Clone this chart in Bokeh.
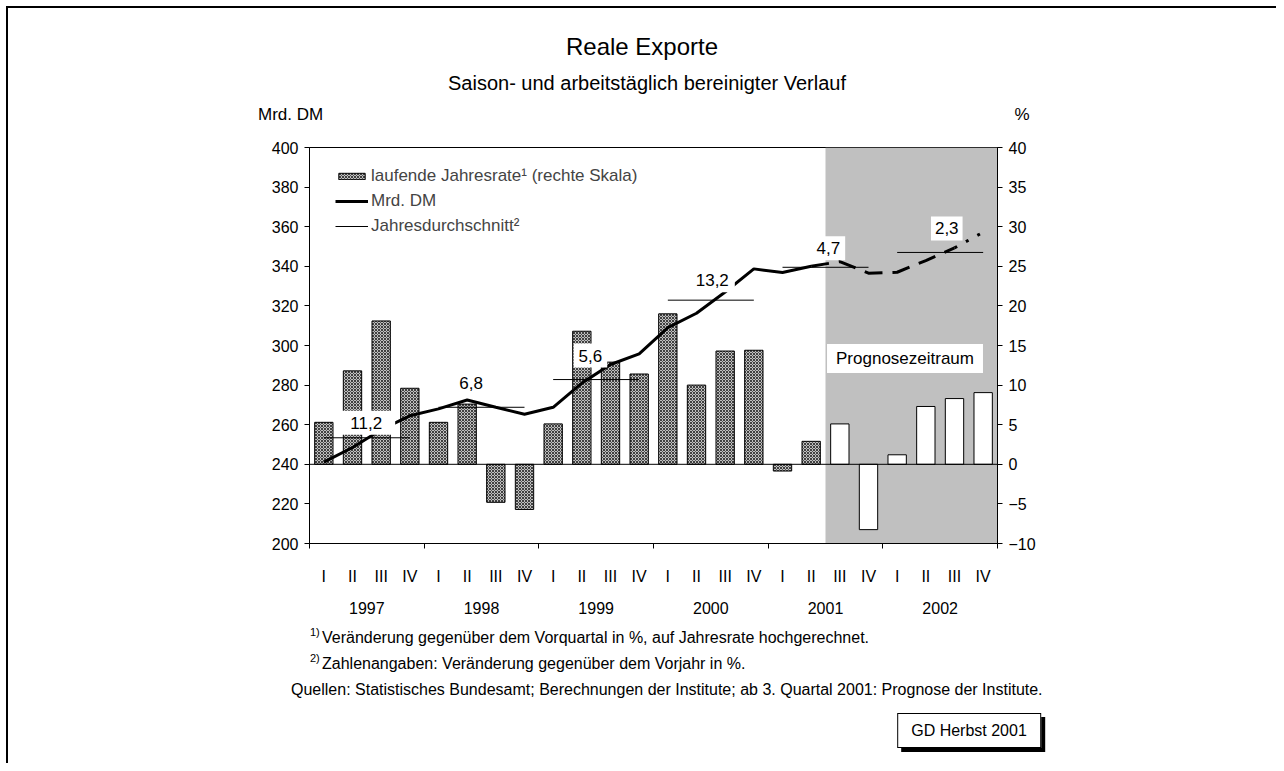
from bokeh.plotting import figure
from bokeh.layouts import column
from bokeh.models import (Range1d, LinearAxis, FixedTicker, Label, Legend, LegendItem,
                          ColumnDataSource, BoxAnnotation, Span, Div)
from bokeh.embed import file_html
from bokeh.resources import INLINE

# ---------------- data ----------------
quarter_names = ["I", "II", "III", "IV"]
years = ["1997", "1998", "1999", "2000", "2001", "2002"]
# laufende Jahresrate (%), right scale
rate = [5.3, 11.8, 18.1, 9.6, 5.3, 7.6, -4.8, -5.7,
        5.1, 16.8, 12.9, 11.4, 19.0, 10.0, 14.3, 14.4,
        -0.85, 2.9, 5.1, -8.25, 1.2, 7.3, 8.3, 9.05]
# Mrd. DM, left scale
mrd = [241.1, 248.5, 257.5, 264.5, 268.0, 272.5, 268.8, 265.3,
       268.8, 281.0, 290.4, 295.8, 309.0, 316.3, 327.0, 338.7,
       336.9, 340.0, 342.4, 336.5, 337.0, 342.9, 349.3, 357.2]
# Jahresdurchschnitt (Mrd. DM)
avg = [253.4, 268.8, 282.8, 322.9, 339.5, 347.0]
avg_labels = ["11,2", "6,8", "5,6", "13,2", "4,7", "2,3"]
n_actual = 18  # up to 2. Quartal 2001

FONT = "Liberation Sans"
CW = 1268                      # content width (page x 8..1276)
HEAD_TOP, HEAD_BOT = 8, 130    # page y of header strip
FOOT_TOP, FOOT_BOT = 620, 763  # page y of footer strip
FRAME_L, FRAME_T, FRAME_W, FRAME_H = 309, 147, 688, 396


def span(top0, px, py, s, size, align="left", extra=""):
    lh = round(size * 1.2)
    tr = "transform:translateX(-50%);" if align == "center" else ""
    return (f'<span style="position:absolute;left:{px - 8}px;top:{py - top0 - lh / 2:.1f}px;'
            f"font-family:'{FONT}';font-size:{size}px;line-height:{lh}px;white-space:nowrap;"
            f'color:black;{tr}{extra}">{s}</span>')


def strip(top, bot, spans):
    html = (f'<div style="position:relative;width:{CW}px;height:{bot - top}px;overflow:visible;">'
            + "".join(spans) + "</div>")
    return Div(text=html, width=CW, height=bot - top, margin=0)


# ---------------- header ----------------
head = strip(HEAD_TOP, HEAD_BOT, [
    span(HEAD_TOP, 642, 46, "Reale Exporte", 24, "center"),
    span(HEAD_TOP, 647, 83, "Saison- und arbeitstäglich bereinigter Verlauf", 20, "center"),
    span(HEAD_TOP, 258, 115, "Mrd. DM", 17),
    span(HEAD_TOP, 1022, 115, "%", 17, "center"),
])

# ---------------- main chart ----------------
MH = FOOT_TOP - HEAD_BOT
p = figure(width=CW, height=MH, x_range=Range1d(0, 24), y_range=Range1d(200, 400),
           output_backend="svg", toolbar_location=None, tools="",
           x_axis_location=None, y_axis_location=None,
           min_border_left=FRAME_L - 8, min_border_right=CW - (FRAME_L - 8) - FRAME_W,
           min_border_top=FRAME_T - HEAD_BOT, min_border_bottom=MH - (FRAME_T - HEAD_BOT) - FRAME_H)
p.extra_y_ranges = {"pct": Range1d(-10, 40)}
p.grid.visible = False
p.outline_line_color = "black"
p.outline_line_width = 1
p.background_fill_color = "white"
p.border_fill_color = "white"


def style_axis(ax, size="16px"):
    ax.major_label_text_font = FONT
    ax.major_label_text_font_size = size
    ax.major_label_text_color = "black"
    ax.minor_tick_line_color = None
    ax.major_tick_in = 0
    ax.axis_line_color = "black"
    ax.major_tick_line_color = "black"


left = LinearAxis(ticker=FixedTicker(ticks=list(range(200, 401, 20))))
style_axis(left)
left.major_tick_out = 5
left.major_label_standoff = 6
p.add_layout(left, "left")

right = LinearAxis(y_range_name="pct", ticker=FixedTicker(ticks=list(range(-10, 41, 5))))
style_axis(right)
right.major_tick_out = 5
right.major_label_standoff = 6
p.add_layout(right, "right")

xb = LinearAxis(ticker=FixedTicker(ticks=list(range(0, 25, 4))),
                major_label_overrides={i: "" for i in range(0, 25, 4)})
style_axis(xb)
xb.major_tick_out = 5
xb.major_label_standoff = 0
p.add_layout(xb, "below")

qticks = [i + 0.5 for i in range(24)]
xq = LinearAxis(ticker=FixedTicker(ticks=qticks),
                major_label_overrides={t: quarter_names[i % 4] for i, t in enumerate(qticks)})
style_axis(xq)
xq.axis_line_color = None
xq.major_tick_line_color = None
xq.major_tick_out = 0
xq.major_label_standoff = 19
p.add_layout(xq, "below")

yticks = [4 * k + 2 for k in range(6)]
xy = LinearAxis(ticker=FixedTicker(ticks=yticks),
                major_label_overrides={t: years[k] for k, t in enumerate(yticks)})
style_axis(xy)
xy.axis_line_color = None
xy.major_tick_line_color = None
xy.major_tick_out = 0
xy.major_label_standoff = 14
p.add_layout(xy, "below")

# forecast shading
p.add_layout(BoxAnnotation(left=n_actual, right=24, fill_color="#c0c0c0", fill_alpha=1,
                           line_color=None, level="underlay"))
p.add_layout(Span(location=240, dimension="width", line_color="black", line_width=1))

xs = [i + 0.5 for i in range(24)]
src_act = ColumnDataSource(dict(x=xs[:n_actual], top=rate[:n_actual]))
src_fc = ColumnDataSource(dict(x=xs[n_actual:], top=rate[n_actual:]))

bars_act = p.vbar(x="x", top="top", bottom=0, width=0.64, source=src_act, y_range_name="pct",
                  fill_color="#c0c0c0", hatch_pattern="diagonal_cross", hatch_color="#404040",
                  hatch_scale=3, hatch_weight=1, line_color="black", line_width=1)
p.vbar(x="x", top="top", bottom=0, width=0.64, source=src_fc, y_range_name="pct",
       fill_color="white", line_color="black", line_width=1)

# annual averages
avg_seg = p.segment(x0=[4 * k + 0.5 for k in range(6)], x1=[4 * k + 3.5 for k in range(6)],
                    y0=avg, y1=avg, line_color="black", line_width=1)

line_act = p.line(xs[:n_actual], mrd[:n_actual], line_color="black", line_width=3)
p.line(xs[n_actual - 1:n_actual + 5], mrd[n_actual - 1:n_actual + 5], line_color="black",
       line_width=3, line_dash="18 10")
p.line(xs[n_actual + 4:], mrd[n_actual + 4:], line_color="black", line_width=3, line_dash="3 10")

# average value labels (white boxes)
lab_off_x = [1.98, 1.64, 1.80, 2.05, 2.10, 2.23]
lab_off_px = [15, 24, 24, 20, 19, 24]
lab_pad_x = [13, 6, 5, 6, 5, 4]
for k in range(6):
    p.add_layout(Label(x=4 * k + lab_off_x[k], y=avg[k] + lab_off_px[k] * 200 / FRAME_H,
                       text=avg_labels[k], text_align="center", text_baseline="middle",
                       text_font=FONT, text_font_size="17px", text_color="black",
                       background_fill_color="white", padding=dict(x=lab_pad_x[k], y=6)))

# "Prognosezeitraum" box (screen units relative to the frame)
p.add_layout(Label(x=904.5 - FRAME_L, y=FRAME_T + FRAME_H - 358, x_units="screen", y_units="screen",
                   text="Prognosezeitraum", text_align="center", text_baseline="middle",
                   text_font=FONT, text_font_size="17px", text_color="black",
                   background_fill_color="white", padding=dict(x=9, y=5)))

legend = Legend(items=[
    LegendItem(label="laufende Jahresrate¹ (rechte Skala)", renderers=[bars_act]),
    LegendItem(label="Mrd. DM", renderers=[line_act]),
    LegendItem(label="Jahresdurchschnitt²", renderers=[avg_seg]),
], location=(26, 307), glyph_width=33, glyph_height=8, label_height=20, spacing=5,
    padding=0, margin=0, background_fill_alpha=0, border_line_color=None,
    label_text_font=FONT, label_text_font_size="17px", label_standoff=3)
p.add_layout(legend)

# ---------------- footer ----------------
foot = strip(FOOT_TOP, FOOT_BOT, [
    span(FOOT_TOP, 310, 632, "1)", 11),
    span(FOOT_TOP, 322, 637, "Veränderung gegenüber dem Vorquartal in %, auf Jahresrate hochgerechnet.", 16),
    span(FOOT_TOP, 310, 658, "2)", 11),
    span(FOOT_TOP, 322, 663, "Zahlenangaben: Veränderung gegenüber dem Vorjahr in %.", 16),
    span(FOOT_TOP, 291, 689, "Quellen: Statistisches Bundesamt; Berechnungen der Institute; "
                             "ab 3. Quartal 2001: Prognose der Institute.", 16),
    span(FOOT_TOP, 969, 730, "GD Herbst 2001", 16, "center",
         "background:white;border:1px solid black;padding:7px 13px;margin-top:-8px;"
         "box-shadow:4px 4px 0 black;"),
])

page = column(head, p, foot, spacing=0,
              styles={"margin-left": "6px", "margin-top": "6px",
                      "border-left": "2px solid black", "border-top": "2px solid black"})

open("out.html", "w").write(file_html(page, INLINE))
